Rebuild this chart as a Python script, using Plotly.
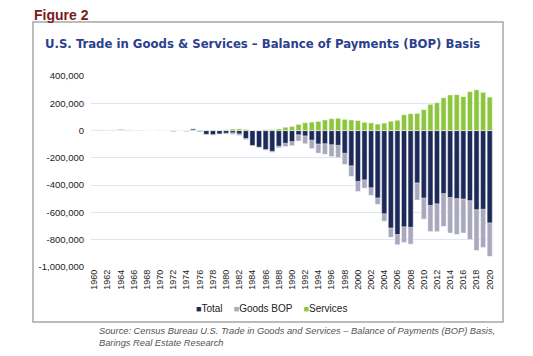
import plotly.graph_objects as go

years = [str(y) for y in range(1960, 2021)]

total = [3508, 4195, 3370, 4210, 6022, 4664, 2939, 2604, 250, 91, 2254,
         -1302, -5443, 1900, -4293, 12404, -6082, -27246, -29763, -24565, -19407,
         -16172, -24156, -57767, -109072, -121880, -138538, -151684, -114566, -93141, -80864,
         -31135, -39212, -70311, -98493, -96384, -104065, -108273, -166140, -258617, -372517,
         -361511, -418955, -493890, -609883, -714245, -761716, -705375, -708726, -383774, -494658,
         -548625, -536773, -461876, -490336, -498523, -502001, -513814, -579939, -576865, -676684]

goods = [4892, 5571, 4521, 5224, 6801, 4951, 3817, 3800, 635, 607, 2603,
         -2260, -6416, 911, -5505, 8903, -9483, -31091, -33927, -27568, -25500,
         -28023, -36485, -67102, -112492, -122173, -145081, -159557, -126959, -117749, -111037,
         -76937, -96897, -132451, -165831, -174170, -191000, -198428, -248221, -336383, -446783,
         -422370, -475245, -541643, -664766, -782804, -837289, -821196, -832492, -509694, -648678,
         -740999, -741119, -702244, -751531, -761868, -751051, -799343, -878749, -857258, -922017]

services = [-1384, -1376, -1151, -1014, -779, -287, -878, -1196, -385, -516, -349,
            957, 973, 989, 1212, 3501, 3401, 3845, 4164, 3003, 6093,
            11852, 12329, 9335, 3419, 294, 6543, 7874, 12392, 24607, 30173,
            45802, 57685, 62141, 67338, 77786, 86935, 90155, 82081, 77766, 74266,
            60859, 56290, 47754, 54883, 68558, 75573, 115821, 123766, 125920, 154020,
            192374, 204346, 240368, 261195, 263345, 249050, 285529, 298810, 280393, 245333]

y_tickvals = [400000, 200000, 0, -200000, -400000, -600000, -800000, -1000000]
y_ticktext = ["400,000", "200,000", "0", "-200,000", "-400,000", "-600,000", "-800,000", "-1,000,000"]
x_tickvals = [str(y) for y in range(1960, 2021, 2)]
series_names = ["Total", "Goods BOP", "Services"]

NAVY = "#1c2a5a"
GOODS = "#a9a8bd"
GREEN = "#8cc63e"
colors = [NAVY, GOODS, GREEN]

fig = go.Figure()
fig.add_trace(go.Bar(x=years, y=goods, name=series_names[1], marker=dict(color=GOODS, line=dict(color="white", width=0.5))))
fig.add_trace(go.Bar(x=years, y=total, name=series_names[0], marker=dict(color=NAVY, line=dict(color="white", width=0.5))))
fig.add_trace(go.Bar(x=years, y=services, name=series_names[2], marker=dict(color=GREEN, line=dict(color="white", width=0.5))))

L, R, T, B = 91, 493, 76, 267
W, H = 533, 356

def px(x):
    return (x - L) / (R - L)

def py(y):
    return (B - y) / (B - T)

legend_parts = []
for name, col in zip(series_names, colors):
    legend_parts.append(f"<span style='color:{col};font-size:9px'>■</span>{name}")
legend_text = "&nbsp;&nbsp;&nbsp;&nbsp;".join(legend_parts)

fig.update_layout(
    width=W, height=H,
    margin=dict(l=L, r=W - R, t=T, b=H - B),
    paper_bgcolor="white", plot_bgcolor="white",
    barmode="overlay", bargap=0.22,
    font=dict(family="Liberation Sans, Arial, sans-serif", size=9, color="#222222"),
    showlegend=False,
    xaxis=dict(type="category", tickvals=x_tickvals, tickangle=-90, showgrid=False,
               showline=False, ticks="", automargin=False, tickfont=dict(size=9, color="#222222")),
    yaxis=dict(range=[-1000000, 400000], tickvals=y_tickvals, ticktext=y_ticktext,
               showgrid=True, gridcolor="#dde7f3", gridwidth=1, zeroline=False, automargin=False,
               ticks="", tickfont=dict(size=9.5, color="#222222"), ticklabelstandoff=6),
    shapes=[dict(type="rect", xref="paper", yref="paper",
                 x0=px(33), x1=px(503), y0=py(322), y1=py(22),
                 line=dict(color="#a6a6a6", width=1.5), fillcolor="rgba(0,0,0,0)", layer="below")],
    annotations=[
        dict(text="<b>Figure 2</b>", xref="paper", yref="paper", x=px(32), y=py(15),
             xanchor="left", yanchor="middle", showarrow=False,
             font=dict(family="Liberation Sans, Arial, sans-serif", size=14, color="#7a1a22")),
        dict(text="<b>U.S. Trade in Goods &amp; Services – Balance of Payments (BOP) Basis</b>",
             xref="paper", yref="paper", x=px(262), y=py(43), xanchor="center", yanchor="middle",
             showarrow=False,
             font=dict(family="Liberation Sans Narrow, DejaVu Sans Condensed, Arial Narrow, sans-serif", size=13, color="#2b3f8c")),
        dict(text=legend_text, xref="paper", yref="paper", x=px(271), y=py(308),
             xanchor="center", yanchor="middle", showarrow=False,
             font=dict(family="Liberation Sans, Arial, sans-serif", size=10, color="#222222")),
        dict(text="<i>Source: Census Bureau U.S. Trade in Goods and Services – Balance of Payments (BOP) Basis,<br>Barings Real Estate Research</i>",
             xref="paper", yref="paper", x=px(97), y=py(324), xanchor="left", yanchor="top",
             align="left", showarrow=False,
             font=dict(family="Liberation Sans, Arial, sans-serif", size=9.3, color="#555555")),
    ],
)

fig.write_html("out.html", config={"displayModeBar": False},
               post_script="document.body.style.margin='0';document.body.style.overflow='hidden';")
